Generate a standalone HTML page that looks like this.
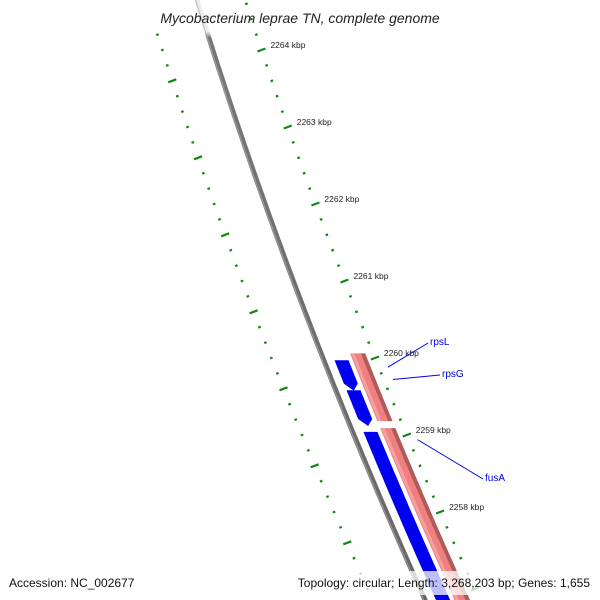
<!DOCTYPE html>
<html><head><meta charset="utf-8"><style>
body{margin:0;background:#fff}
svg{display:block;font-family:"Liberation Sans","DejaVu Sans",sans-serif}
</style></head><body>
<svg id="chart" width="600" height="600" viewBox="0 0 600 600">
<defs>
<linearGradient id="bbfade" x1="0" y1="0" x2="0" y2="1">
<stop offset="0" stop-color="#eee"/><stop offset="0.06" stop-color="#eee"/><stop offset="0.07" stop-color="#777"/><stop offset="1" stop-color="#666"/>
</linearGradient>
</defs>
<g id="layer"></g>
<text x="300" y="23" text-anchor="middle" font-size="14" font-style="italic" fill="#222">Mycobacterium leprae TN, complete genome</text>
<rect x="0" y="571" width="600" height="24" fill="#fff" fill-opacity="0.75"/>
<text x="9" y="587" font-size="12" fill="#111">Accession: NC_002677</text>
<text x="590" y="587" font-size="12" fill="#111" text-anchor="end">Topology: circular; Length: 3,268,203 bp; Genes: 1,655</text>
</svg>
<script>
const majorTicks = [2264, 2263, 2262, 2261, 2260, 2259, 2258, 2257];
const tickLabels = ["2264 kbp","2263 kbp","2262 kbp","2261 kbp","2260 kbp","2259 kbp","2258 kbp",""];
const innerMajor = [2263.6, 2262.6, 2261.6, 2260.6, 2259.6, 2258.6, 2257.6];
const geneNames = ["rpsL","rpsG","fusA"];
const geneStart = [2259.97, 2259.58, 2259.04];
const geneEnd = [2259.59, 2259.13, 2256.80];
const fwdStart = [2260.06, 2259.09];
const fwdEnd = [2259.18, 2256.75];
const labelKbp = [2259.88, 2259.72, 2258.94];
const labelPos = [[430,345],[442,377],[485,481]];

const NS="http://www.w3.org/2000/svg";
const layer=document.getElementById('layer');
function yOf(k){return 50+(2264-k)*77;}
function bx(y){return 197+0.31*y+0.0001167*y*y;}
function ox(y,d){const s=0.31+2*0.0001167*y;return bx(y)+d*Math.sqrt(1+s*s)*(d>0?1:1.0);}
function mk(tag,attrs){const e=document.createElementNS(NS,tag);for(const a in attrs)e.setAttribute(a,attrs[a]);layer.appendChild(e);return e;}
function band(y1,y2,a,b,tip){
  const pts=[];const n=30;
  for(let i=0;i<=n;i++){const y=y1+(y2-y1)*i/n;pts.push([ox(y,b),y]);}
  if(tip){const y=y2+7;pts.push([ox(y,(a+b)/2),y]);}
  for(let i=n;i>=0;i--){const y=y1+(y2-y1)*i/n;pts.push([ox(y,a),y]);}
  return pts.map(p=>p[0].toFixed(1)+','+p[1].toFixed(1)).join(' ');
}
// backbone
let bb=mk('polyline',{points:(()=>{let p=[];for(let y=-5;y<=605;y+=10)p.push(bx(y).toFixed(1)+','+y);return p.join(' ');})(),fill:'none',stroke:'url(#bbfade)','stroke-width':5});


mk('polyline',{points:(()=>{let p=[];for(let y=-5;y<=605;y+=10)p.push((bx(y)-1.5).toFixed(1)+','+y);return p.join(' ');})(),fill:'none',stroke:'#aaa','stroke-width':1.2,'stroke-opacity':0.7});
// forward features (pink)
fwdStart.forEach((s,i)=>{
  const y1=yOf(s),y2=yOf(fwdEnd[i]);
  const p=mk('polygon',{points:band(y1,y2,27,38,false),fill:'#f08080'});
  
  
  mk('polygon',{points:band(y1,y2,37,41,false),fill:'#b05a5a'});
  mk('polygon',{points:band(y1,y2,28,31,false),fill:'#f4a0a0'});
});
// reverse genes (blue)
geneStart.forEach((s,i)=>{
  const y1=yOf(s),y2=yOf(geneEnd[i]);
  const p=mk('polygon',{points:band(y1,y2-(i<2?6:0),10,23,i<2),fill:'#0000f0'});
  
  
});
// outer tick track
for(let k=2265;k>=2256;k-=0.2){
  const kk=Math.round(k*5)/5;const y=yOf(kk);if(y<-5||y>605)continue;
  const isMajor=Math.abs(kk-Math.round(kk))<0.01;
  const x=ox(y,46+4*y/600);
  const t=mk('line',{x1:x-(isMajor?4:1.2),y1:y+(isMajor?1.5:0.5),x2:x+(isMajor?4:1.2),y2:y-(isMajor?1.5:0.5),stroke:'#118811','stroke-width':2.2});
  
  
}
majorTicks.forEach((k,i)=>{
  const y=yOf(k);if(!tickLabels[i])return;
  const t=mk('text',{x:ox(y,46+4*y/600)+9,y:y-2,'font-size':8.5,fill:'#222'});
  t.textContent=tickLabels[i];
  
  
});
// inner tick track
for(let k=2265;k>=2256;k-=0.2){
  const kk=Math.round(k*5)/5+0.0;const y=yOf(kk-0.4);if(y<25||y>605)continue;
  const isMajor=innerMajor.some(m=>Math.abs(m-(kk-0.4))<0.01);
  const x=ox(y,-48);
  const t=mk('line',{x1:x-(isMajor?4:1.2),y1:y+(isMajor?1.5:0.5),x2:x+(isMajor?4:1.2),y2:y-(isMajor?1.5:0.5),stroke:'#118811','stroke-width':2.2});
  
  
}
// gene labels
geneNames.forEach((g,i)=>{
  const y=yOf(labelKbp[i]);const x=ox(y,57);
  const l=mk('line',{x1:x,y1:y,x2:labelPos[i][0]-2,y2:labelPos[i][1]-2,stroke:'#0000ee','stroke-width':1});
  
  
  const t=mk('text',{x:labelPos[i][0],y:labelPos[i][1],'font-size':10,fill:'#0000ee'});
  t.textContent=g;
  
  
});
</script>
</body></html>
